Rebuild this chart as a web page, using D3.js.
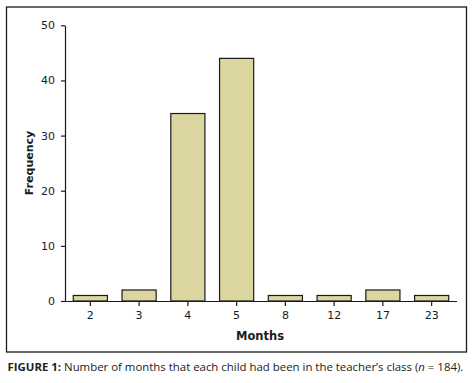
<!DOCTYPE html>
<html>
<head>
<meta charset="utf-8">
<script src="https://cdn.jsdelivr.net/npm/d3@7"></script>
<style>
  body { margin: 0; background: #fff; }
  svg { display: block; }
</style>
</head>
<body>
<svg id="chart" width="473" height="383"></svg>
<script>
// values
let months = ["2", "3", "4", "5", "8", "12", "17", "23"];
let frequency = [1, 2, 34, 44, 1, 1, 2, 1];
let yTicks = [0, 10, 20, 30, 40, 50];

const svg = d3.select("#chart");
const font = "'DejaVu Sans', Verdana, sans-serif";

// frame round the plot
svg.append("rect")
  .attr("x", 6.5).attr("y", 7)
  .attr("width", 460).attr("height", 345)
  .attr("fill", "none")
  .attr("stroke", "#1a1a1a")
  .attr("stroke-width", 1.3);

const plotLeft = 65, plotRight = 457, plotTop = 25.3, plotBottom = 301;

const x = d3.scaleBand()
  .domain(months)
  .range([plotLeft, plotRight])
  .paddingInner(0.3)
  .paddingOuter(0.17);

const y = d3.scaleLinear()
  .domain([0, 50])
  .range([plotBottom, plotTop]);

// bars
svg.selectAll(".bar")
  .data(months)
  .enter()
  .append("rect")
  .attr("class", "bar")
  .attr("x", d => x(d))
  .attr("y", (d, i) => y(frequency[i]))
  .attr("width", x.bandwidth())
  .attr("height", (d, i) => plotBottom - y(frequency[i]))
  .attr("fill", "#dbd59f")
  .attr("stroke", "#1a1a1a")
  .attr("stroke-width", 1.2);

// y axis
const yAxis = svg.append("g")
  .attr("transform", `translate(${plotLeft},0)`)
  .call(d3.axisLeft(y).tickValues(yTicks).tickSize(4).tickPadding(6).tickSizeOuter(0));

// x axis
const xAxis = svg.append("g")
  .attr("transform", `translate(0,${plotBottom})`)
  .call(d3.axisBottom(x).tickSize(5).tickPadding(5).tickSizeOuter(0));

xAxis.select(".domain").attr("d", `M${plotLeft - 4},0.5H${plotRight}`);

for (let ax of [xAxis, yAxis]) {
  ax.selectAll("path, line").attr("stroke", "#1a1a1a").attr("stroke-width", 1.2);
  ax.selectAll("text")
    .attr("fill", "#1a1a1a")
    .style("font-family", font)
    .style("font-size", "11px");
}

// axis titles
svg.append("text")
  .attr("x", 260).attr("y", 340)
  .attr("text-anchor", "middle")
  .style("font-family", font)
  .style("font-size", "11.5px")
  .style("font-weight", "bold")
  .attr("fill", "#1a1a1a")
  .text("Months");

svg.append("text")
  .attr("transform", "translate(33,163) rotate(-90)")
  .attr("text-anchor", "middle")
  .style("font-family", font)
  .style("font-size", "11px")
  .style("font-weight", "bold")
  .attr("fill", "#1a1a1a")
  .text("Frequency");

// caption - font size picked so the line spans the frame width
let caption = svg.append("text")
  .attr("x", 7.5).attr("y", 371)
  .style("font-family", "'Open Sans', sans-serif")
  .style("font-size", "12px")
  .attr("fill", "#222");
caption.append("tspan").style("font-weight", "bold").text("FIGURE 1:");
caption.append("tspan").text(" Number of months that each child had been in the teacher\u2019s class (");
caption.append("tspan").style("font-style", "italic").text("n");
caption.append("tspan").text(" = 184).");
let w = caption.node().getComputedTextLength();
caption.style("font-size", (12 * 456 / w).toFixed(2) + "px");
</script>
</body>
</html>
